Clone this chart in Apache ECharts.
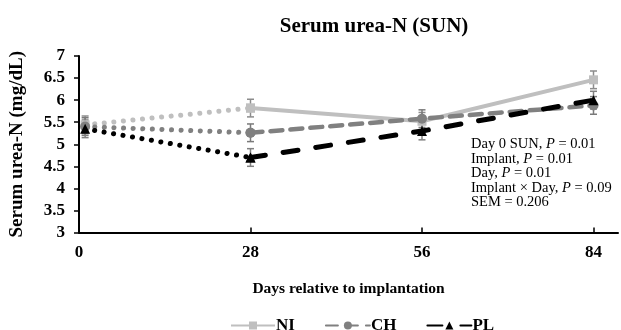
<!DOCTYPE html>
<html>
<head>
<meta charset="utf-8">
<script src="https://cdn.jsdelivr.net/npm/echarts@6/dist/echarts.min.js"></script>
<style>html,body{margin:0;padding:0;background:#fff}#c{width:621px;height:330px}</style>
</head>
<body>
<div id="c"></div>
<script>
const days = [1, 28, 56, 84];
const tickDays = [0, 28, 56, 84];
const NI = [5.44, 5.82, 5.52, 6.46];
const CH = [5.40, 5.26, 5.58, 5.88];
const PL = [5.35, 4.70, 5.30, 6.00];
const errNI = [0.2, 0.2, 0.2, 0.2];
const errCH = [0.2, 0.2, 0.2, 0.2];
const errPL = [0.2, 0.2, 0.2, 0.2];
const notes = ['Day 0 SUN, {p|P} = 0.01', 'Implant, {p|P} = 0.01', 'Day, {p|P} = 0.01', 'Implant \u00d7 Day, {p|P} = 0.09', 'SEM = 0.206'];

const FONT = '"Liberation Serif", "Times New Roman", serif';
const pts = (vals, from, to) => days.slice(from, to).map((d, i) => [d, vals[from + i]]);
const errData = (vals, errs) => days.map((d, i) => [d, vals[i] - errs[i], vals[i] + errs[i]]);

function errSeries(vals, errs, color) {
  return {
    type: 'custom', silent: true, z: 1,
    data: errData(vals, errs),
    renderItem: function (params, api) {
      const x = api.value(0);
      const lo = api.coord([x, api.value(1)]);
      const hi = api.coord([x, api.value(2)]);
      const w = 3.5;
      const st = { stroke: color, lineWidth: 1.5 };
      return { type: 'group', children: [
        { type: 'line', shape: { x1: lo[0], y1: lo[1], x2: hi[0], y2: hi[1] }, style: st },
        { type: 'line', shape: { x1: lo[0] - w, y1: lo[1], x2: lo[0] + w, y2: lo[1] }, style: st },
        { type: 'line', shape: { x1: hi[0] - w, y1: hi[1], x2: hi[0] + w, y2: hi[1] }, style: st }
      ]};
    }
  };
}

function dotted(vals, color, symbol, size) {
  return {
    type: 'line', data: pts(vals, 0, 2), z: 2,
    symbol: symbol, symbolSize: size, showSymbol: true,
    itemStyle: { color: color },
    lineStyle: { color: color, width: 5, type: [0.1, 9.5], cap: 'round' },
    silent: true
  };
}

const chart = echarts.init(document.getElementById('c'));
chart.setOption({
  animation: false,
  backgroundColor: '#fff',
  title: {
    text: 'Serum urea-N (SUN)', left: 369, top: 11, textAlign: 'center',
    textStyle: { fontFamily: FONT, fontWeight: 'bold', fontSize: 21, color: '#000' }
  },
  grid: { left: 78, right: 3, top: 56, bottom: 97.5, containLabel: false },
  legend: {
    top: 312, left: 225, itemWidth: 44, itemHeight: 10, itemGap: 30,
    textStyle: { fontFamily: FONT, fontWeight: 'bold', fontSize: 17, color: '#000', padding: [0, 0, 0, -4] },
    data: ['NI', 'CH', 'PL']
  },
  xAxis: {
    type: 'value', min: 0, max: 88,
    name: 'Days relative to implantation', nameLocation: 'middle', nameGap: 48,
    nameTextStyle: { fontFamily: FONT, fontWeight: 'bold', fontSize: 15.5, color: '#000' },
    axisLine: { lineStyle: { color: '#000', width: 2 } },
    axisTick: { show: true, inside: true, length: 5, customValues: tickDays, lineStyle: { color: '#000', width: 1.5 } },
    axisLabel: { customValues: tickDays, margin: 12, fontFamily: FONT, fontWeight: 'bold', fontSize: 17, color: '#000' },
    splitLine: { show: false }
  },
  yAxis: {
    type: 'value', min: 3, max: 7, interval: 0.5,
    name: 'Serum urea-N (mg/dL)', nameLocation: 'middle', nameGap: 52, nameRotate: 90,
    nameTextStyle: { fontFamily: FONT, fontWeight: 'bold', fontSize: 19, color: '#000' },
    axisLine: { show: true, lineStyle: { color: '#000', width: 2 } },
    axisTick: { show: true, length: 5, lineStyle: { color: '#000', width: 1.5 } },
    axisLabel: { margin: 14, fontFamily: FONT, fontWeight: 'bold', fontSize: 17, color: '#000' },
    splitLine: { show: false }
  },
  graphic: [{
    type: 'text', left: 471, top: 137, z: 10,
    style: {
      text: notes.join('\n'),
      font: '14.5px ' + FONT, fill: '#000', lineHeight: 14.5,
      rich: { p: { fontStyle: 'italic', fontFamily: FONT, fontSize: 14.5, lineHeight: 14.5 } }
    }
  }],
  series: [
    errSeries(NI, errNI, '#8c8c8c'),
    errSeries(CH, errCH, '#7a7a7a'),
    errSeries(PL, errPL, '#808080'),
    dotted(NI, '#bfbfbf', 'rect', 9),
    dotted(CH, '#808080', 'circle', 10),
    dotted(PL, '#000000', 'triangle', 10),
    { name: 'NI', type: 'line', data: pts(NI, 1, 4), z: 3, symbol: 'rect', symbolSize: 9,
      itemStyle: { color: '#bfbfbf' }, lineStyle: { color: '#bfbfbf', width: 4 } },
    { name: 'CH', type: 'line', data: pts(CH, 1, 4), z: 4, symbol: 'circle', symbolSize: 10,
      itemStyle: { color: '#808080' }, lineStyle: { color: '#808080', width: 4.5, type: [12, 8], cap: 'round' } },
    { name: 'PL', type: 'line', data: pts(PL, 1, 4), z: 5, symbol: 'triangle', symbolSize: 10,
      itemStyle: { color: '#000' }, lineStyle: { color: '#000', width: 5, type: [15, 18], cap: 'round' } }
  ]
});
</script>
</body>
</html>
